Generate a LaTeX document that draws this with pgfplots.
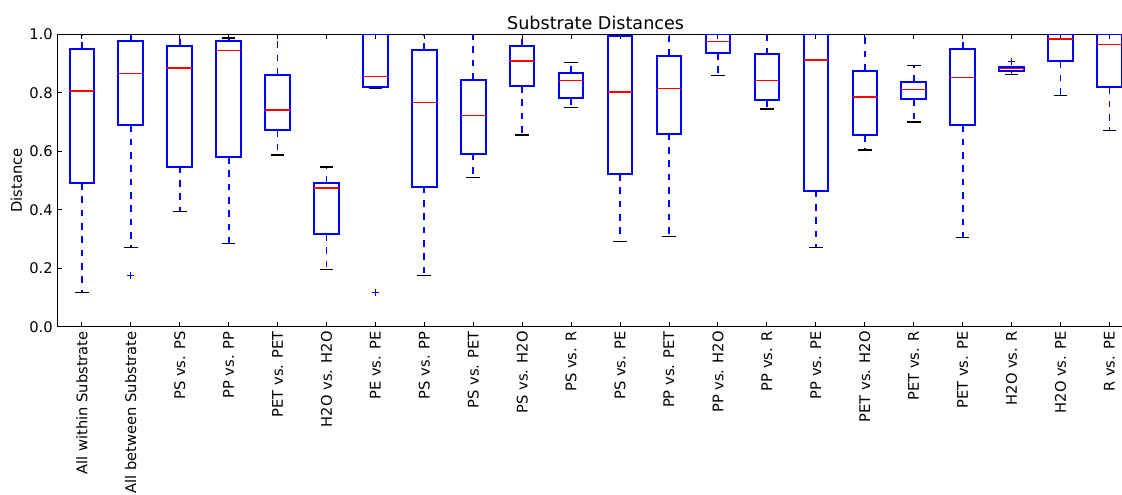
\documentclass[border=0pt]{standalone}
\usepackage{fontspec}
\setmainfont{DejaVu Sans}
\usepackage{pgfplots}
\pgfplotsset{compat=1.18}
\usepgfplotslibrary{statistics}
\definecolor{mplblue}{rgb}{0,0,1}
\definecolor{mplred}{rgb}{1,0,0}
\pgfplotsset{
  boxplot/draw direction=y,
  boxplot/draw/lower whisker/.code={%
    \draw[draw=mplblue, line width=1.35pt, dash pattern=on 5pt off 5pt]
      (boxplot box cs:\pgfplotsboxplotvalue{lower quartile},0.5) --
      (boxplot box cs:\pgfplotsboxplotvalue{lower whisker},0.5);
    \draw[draw=black, line width=1pt, solid]
      (boxplot whisker cs:\pgfplotsboxplotvalue{lower whisker},0) --
      (boxplot whisker cs:\pgfplotsboxplotvalue{lower whisker},1);
  },
  boxplot/draw/upper whisker/.code={%
    \draw[draw=mplblue, line width=1.35pt, dash pattern=on 5pt off 5pt]
      (boxplot box cs:\pgfplotsboxplotvalue{upper quartile},0.5) --
      (boxplot box cs:\pgfplotsboxplotvalue{upper whisker},0.5);
    \draw[draw=black, line width=1pt, solid]
      (boxplot whisker cs:\pgfplotsboxplotvalue{upper whisker},0) --
      (boxplot whisker cs:\pgfplotsboxplotvalue{upper whisker},1);
  },
  boxplot/draw/box/.code={%
    \draw[draw=mplblue, line width=1.5pt, solid]
      (boxplot box cs:\pgfplotsboxplotvalue{lower quartile},0) rectangle
      (boxplot box cs:\pgfplotsboxplotvalue{upper quartile},1);
  },
  boxplot/draw/median/.code={%
    \draw[draw=mplred, line width=1.1pt, solid]
      (boxplot box cs:\pgfplotsboxplotvalue{median},0) --
      (boxplot box cs:\pgfplotsboxplotvalue{median},1);
  },
}
% draw position, lower whisker, lower quartile, median, upper quartile, upper whisker
\newcommand{\bx}[6]{%
  \addplot[draw=mplblue, line width=1pt, mark=none,
    boxplot prepared={draw direction=y, draw position=#1, lower whisker=#2, lower quartile=#3,
      median=#4, upper quartile=#5, upper whisker=#6,
      box extend=0.5, whisker extend=0.28}] coordinates {};}
\begin{document}
\begin{tikzpicture}
\begin{axis}[
  at={(0,0)}, anchor=south west,
  scale only axis, width=807.4pt, height=219.2pt,
  xmin=0.5, xmax=22.5, ymin=0, ymax=1,
  axis line style={line width=0.9pt, draw=black},
  major tick length=3.3pt,
  every tick/.style={draw=black, line width=0.7pt},
  tick align=inside,
  xtick={1,...,22},
  xticklabels={All within Substrate, All between Substrate, PS vs. PS, PP vs. PP, PET vs. PET, H2O vs. H2O, PE vs. PE, PS vs. PP, PS vs. PET, PS vs. H2O, PS vs. R, PS vs. PE, PP vs. PET, PP vs. H2O, PP vs. R, PP vs. PE, PET vs. H2O, PET vs. R, PET vs. PE, H2O vs. R, H2O vs. PE, R vs. PE},
  xticklabel style={rotate=90, anchor=east, font=\fontsize{11}{13}\selectfont},
  ytick={0,0.2,0.4,0.6,0.8,1.0},
  yticklabel style={/pgf/number format/.cd, fixed, fixed zerofill, precision=1, /tikz/.cd, font=\fontsize{11}{13}\selectfont},
  /pgf/number format/assume math mode=true,
  ylabel={Distance},
  ylabel style={at={(axis description cs:-0.033,0.5)}, anchor=base, font=\fontsize{11}{13}\selectfont},
  title={Substrate Distances},
  title style={at={(axis description cs:0.5,1)}, anchor=base, yshift=-2.5pt, font=\fontsize{13.2}{15}\selectfont},
]
\bx{1}{0.117}{0.491}{0.807}{0.950}{1.0}
\bx{2}{0.271}{0.689}{0.867}{0.978}{1.0}
\bx{3}{0.395}{0.548}{0.885}{0.961}{1.0}
\bx{4}{0.285}{0.580}{0.944}{0.976}{0.988}
\bx{5}{0.587}{0.672}{0.741}{0.862}{1.0}
\bx{6}{0.196}{0.317}{0.475}{0.493}{0.546}
\bx{7}{0.815}{0.819}{0.856}{1.0}{1.0}
\bx{8}{0.176}{0.479}{0.767}{0.948}{1.0}
\bx{9}{0.510}{0.592}{0.722}{0.845}{1.0}
\bx{10}{0.656}{0.823}{0.909}{0.962}{1.0}
\bx{11}{0.749}{0.782}{0.842}{0.869}{0.904}
\bx{12}{0.292}{0.522}{0.803}{0.994}{1.0}
\bx{13}{0.308}{0.660}{0.815}{0.927}{1.0}
\bx{14}{0.860}{0.936}{0.976}{1.0}{1.0}
\bx{15}{0.745}{0.774}{0.843}{0.932}{1.0}
\bx{16}{0.271}{0.465}{0.912}{1.0}{1.0}
\bx{17}{0.604}{0.656}{0.786}{0.876}{1.0}
\bx{18}{0.700}{0.778}{0.811}{0.838}{0.893}
\bx{19}{0.306}{0.689}{0.853}{0.951}{1.0}
\bx{20}{0.863}{0.876}{0.883}{0.889}{0.889}
\bx{21}{0.790}{0.908}{0.985}{1.0}{1.0}
\bx{22}{0.672}{0.819}{0.965}{1.0}{1.0}
\addplot[only marks, draw=mplblue, mark=+, mark size=2.6pt, line width=0.8pt, mark options={draw=mplblue, solid}] coordinates {(2,0.176) (7,0.117) (20,0.908)};
\end{axis}
\pgfresetboundingbox
\path[use as bounding box] (-43.0pt,-126.2pt) rectangle (798.5pt,245.0pt);
\end{tikzpicture}
\end{document}
